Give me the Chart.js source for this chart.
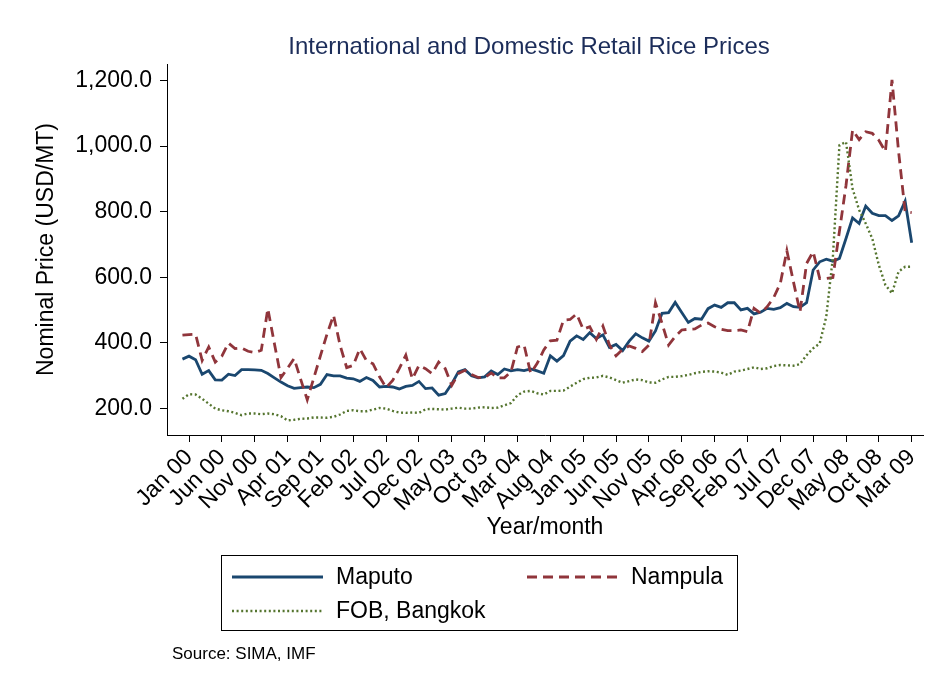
<!DOCTYPE html>
<html>
<head>
<meta charset="utf-8">
<script src="https://cdn.jsdelivr.net/npm/chart.js@4.4.1/dist/chart.umd.min.js"></script>
<style>
  html, body { margin: 0; padding: 0; background: #fff; }
</style>
</head>
<body>
<canvas id="chart" width="939" height="690"></canvas>
<script>
// ===== Dados =====
// monthly prices (USD/MT), first value is Dec 99 (Jan 00 = month 0)
const firstMonth = -1;

const maputo = [
  350, 359, 348, 304, 315, 287, 286, 304, 300, 318, 318, 317, 316,
  306, 293, 280, 269, 261, 263, 265, 263, 273, 303, 299, 299,
  292, 290, 282, 294, 285, 265, 267, 265, 259, 267, 270, 282,
  260, 262, 240, 245, 275, 311, 318, 299, 293, 296, 314, 303,
  320, 314, 318, 315, 320, 314, 307, 360, 344, 361, 405, 421,
  410, 431, 413, 424, 386, 395, 376, 405, 427, 415, 405, 436,
  490, 492, 523, 492, 462, 474, 472, 504, 515, 508, 522, 522,
  500, 505, 488, 493, 505, 502, 507, 520, 510, 508, 522, 622,
  647, 655, 649, 657, 718, 781, 764, 817, 795, 788, 788, 773,
  787, 832, 705
];

const nampula = [
  423, 425, 426, 346, 387, 341, 359, 399, 382, 384, 374, 370, 377,
  504, 397, 294, 322, 352, 288, 226, 293, 360, 426, 484, 392,
  324, 331, 382, 346, 336, 296, 263, 285, 321, 362, 290, 331,
  321, 306, 341, 321, 270, 306, 316, 303, 294, 293, 308, 293,
  293, 311, 387, 393, 307, 337, 378, 406, 408, 469, 471, 488,
  441, 449, 410, 451, 393, 360, 380, 390, 383, 373, 393, 522,
  459, 393, 419, 439, 441, 442, 454, 460, 449, 441, 437, 437,
  439, 434, 505, 490, 510, 538, 581, 681, 586, 494, 642, 678,
  596, 596, 599, 740, 880, 1049, 1020, 1044, 1039, 1018, 983, 1202,
  984, 800, 797
];

const fobBangkok = [
  229, 243, 242, 229, 214, 199, 194, 191, 186, 179, 184, 184, 182,
  184, 182, 176, 163, 165, 168, 169, 172, 172, 171, 174, 181,
  192, 194, 191, 191, 196, 201, 199, 192, 187, 186, 187, 186,
  197, 198, 197, 196, 199, 202, 199, 199, 202, 203, 201, 202,
  209, 216, 240, 251, 253, 246, 242, 253, 253, 254, 266, 278,
  289, 293, 294, 299, 294, 286, 278, 283, 288, 286, 279, 278,
  288, 296, 296, 298, 302, 307, 311, 313, 312, 309, 302, 312,
  315, 320, 325, 320, 322, 329, 332, 331, 330, 335, 362, 383,
  398, 480, 660, 1003, 1013, 870, 805, 764, 718, 637, 576, 551,
  617, 632, 632
];

// x ticks every 5 months starting Jan 00
const tickLabels = [
  'Jan 00', 'Jun 00', 'Nov 00', 'Apr 01', 'Sep 01', 'Feb 02', 'Jul 02', 'Dec 02',
  'May 03', 'Oct 03', 'Mar 04', 'Aug 04', 'Jan 05', 'Jun 05', 'Nov 05', 'Apr 06',
  'Sep 06', 'Feb 07', 'Jul 07', 'Dec 07', 'May 08', 'Oct 08', 'Mar 09'
];
const tickStep = 5;
const yTicks = [200, 400, 600, 800, 1000, 1200];

const seriesNames = ['Maputo', 'Nampula', 'FOB, Bangkok'];

// ===== Helpers =====
const FONT = '"Liberation Sans", Arial, Helvetica, sans-serif';
const toPoints = arr => arr.map((v, i) => ({ x: i + firstMonth, y: v }));
const fmt = v => v.toLocaleString('en-US', { minimumFractionDigits: 1, maximumFractionDigits: 1 });

// --- titulo, legenda e fonte desenhados a mao ---
const decor = {
  id: 'decor',
  afterDraw(chart) {
    const ctx = chart.ctx;
    const ds = chart.data.datasets;
    ctx.save();

    // title
    ctx.fillStyle = '#1c2d5a';
    ctx.font = '24px ' + FONT;
    ctx.textAlign = 'center';
    ctx.textBaseline = 'middle';
    ctx.fillText('International and Domestic Retail Rice Prices', 529, 47);

    // legend box
    ctx.strokeStyle = '#000';
    ctx.lineWidth = 1;
    ctx.setLineDash([]);
    ctx.strokeRect(221.5, 555.5, 516, 75);

    const slots = [
      { x: 232, y: 577 },
      { x: 527, y: 577 },
      { x: 232, y: 611 }
    ];
    ctx.font = '23px ' + FONT;
    ctx.textAlign = 'left';
    ds.forEach((d, i) => {
      const s = slots[i];
      ctx.beginPath();
      ctx.strokeStyle = d.borderColor;
      ctx.lineWidth = d.borderWidth;
      ctx.setLineDash(d.borderDash || []);
      ctx.moveTo(s.x, s.y);
      ctx.lineTo(s.x + 91, s.y);
      ctx.stroke();
      ctx.setLineDash([]);
      ctx.fillStyle = '#000';
      ctx.fillText(d.label, s.x + 104, s.y + 1);
    });

    // source
    ctx.font = '17px ' + FONT;
    ctx.fillText('Source: SIMA, IMF', 172, 654);
    ctx.restore();
  }
};

// ===== Grafico =====
new Chart(document.getElementById('chart'), {
  type: 'line',
  data: {
    datasets: [
      {
        label: seriesNames[0],
        data: toPoints(maputo),
        borderColor: '#1a476f',
        borderWidth: 2.8,
        pointRadius: 0,
        order: 2
      },
      {
        label: seriesNames[1],
        data: toPoints(nampula),
        borderColor: '#90353b',
        borderWidth: 2.8,
        borderDash: [10, 6],
        pointRadius: 0,
        order: 1
      },
      {
        label: seriesNames[2],
        data: toPoints(fobBangkok),
        borderColor: '#55752f',
        borderWidth: 2.4,
        borderDash: [2, 2.6],
        pointRadius: 0,
        order: 0
      }
    ]
  },
  options: {
    responsive: false,
    animation: false,
    layout: { padding: { top: 64, right: 16, bottom: 145, left: 0 } },
    plugins: {
      legend: { display: false },
      tooltip: { enabled: false },
      title: { display: false }
    },
    scales: {
      x: {
        type: 'linear',
        min: -3.35,
        max: 111.72,
        afterBuildTicks: s => { s.ticks = tickLabels.map((_, i) => ({ value: i * tickStep })); },
        afterFit: s => { s.height = 110; },
        ticks: {
          autoSkip: false,
          maxRotation: 45,
          minRotation: 45,
          padding: 2,
          color: '#000',
          font: { family: FONT, size: 23 },
          callback: (v, i) => tickLabels[i]
        },
        grid: { drawOnChartArea: false, tickLength: 7, color: '#000' },
        border: { color: '#000', width: 1 },
        title: {
          display: true,
          text: 'Year/month',
          color: '#000',
          font: { family: FONT, size: 23 },
          padding: { top: 0, bottom: 4 }
        }
      },
      y: {
        min: 118.5,
        max: 1250.6,
        afterBuildTicks: s => { s.ticks = yTicks.map(v => ({ value: v })); },
        afterFit: s => { s.width = 167; },
        ticks: {
          padding: 8,
          color: '#000',
          font: { family: FONT, size: 23 },
          callback: v => fmt(v)
        },
        grid: { drawOnChartArea: false, tickLength: 7, color: '#000' },
        border: { color: '#000', width: 1 },
        title: {
          display: true,
          text: 'Nominal Price (USD/MT)',
          color: '#000',
          font: { family: FONT, size: 23 },
          padding: { top: 33, bottom: 0 }
        }
      }
    }
  },
  plugins: [decor]
});
</script>
</body>
</html>
